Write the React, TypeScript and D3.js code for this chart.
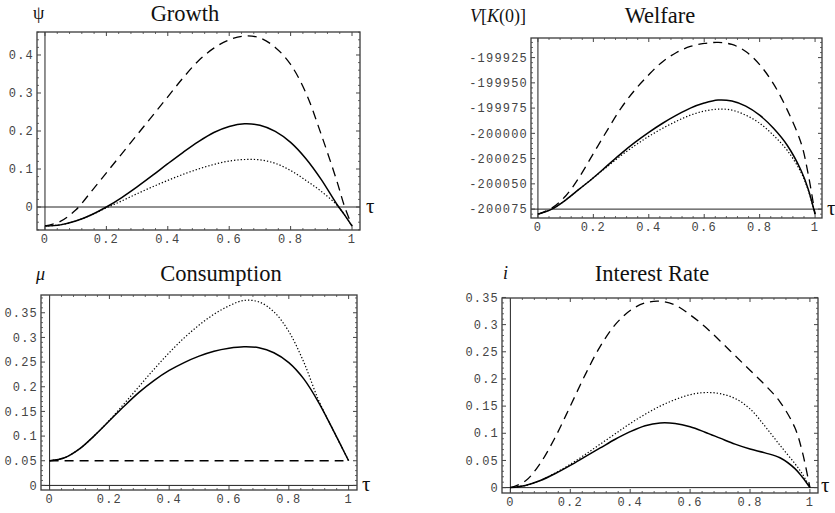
import React from 'react'
import * as d3 from 'd3'

// shared abscissa (tau)
const tau = [0, 0.05, 0.1, 0.15, 0.2, 0.25, 0.3, 0.35, 0.4, 0.45, 0.5, 0.55, 0.6, 0.65, 0.7, 0.75, 0.8, 0.85, 0.9, 0.95, 0.975, 1]
const xTicks = [0, 0.2, 0.4, 0.6, 0.8, 1]

// Growth (psi)
const growthSolid = [-0.05, -0.047, -0.037, -0.021, 0, 0.025, 0.053, 0.083, 0.114, 0.144, 0.172, 0.196, 0.212, 0.219, 0.215, 0.199, 0.17, 0.127, 0.072, 0.008, -0.02, -0.05]
const growthDotted = [-0.05, -0.047, -0.037, -0.021, -0.002, 0.016, 0.035, 0.053, 0.07, 0.086, 0.1, 0.112, 0.121, 0.125, 0.124, 0.115, 0.096, 0.07, 0.041, 0.006, -0.02, -0.05]
const growthDashed = [-0.05, -0.038, -0.008, 0.04, 0.09, 0.14, 0.19, 0.24, 0.29, 0.34, 0.385, 0.418, 0.44, 0.45, 0.445, 0.42, 0.375, 0.3, 0.19, 0.07, 0.003, -0.05]
const growthTicks = [0, 0.1, 0.2, 0.3, 0.4]

// Welfare V[K(0)]
const welfareSolid = [-200080, -200075, -200066, -200055, -200044, -200032, -200020, -200009, -199999, -199990, -199982, -199975, -199970, -199967, -199968, -199973, -199982, -199995, -200012, -200037, -200055, -200080]
const welfareDotted = [-200080, -200075, -200066, -200055, -200044, -200033, -200022, -200012, -200003, -199995, -199988, -199982, -199978, -199976, -199977, -199982, -199990, -200002, -200017, -200039, -200056, -200080]
const welfareDashed = [-200080, -200074, -200062, -200043, -200020, -199997, -199975, -199957, -199942, -199929, -199920, -199914, -199911, -199910, -199912, -199919, -199932, -199951, -199977, -200010, -200040, -200080]
const welfareTicks = [-200075, -200050, -200025, -200000, -199975, -199950, -199925]

// Consumption (mu)
const consSolid = [0.05, 0.056, 0.074, 0.101, 0.131, 0.161, 0.189, 0.213, 0.233, 0.249, 0.262, 0.272, 0.278, 0.281, 0.279, 0.269, 0.249, 0.216, 0.168, 0.11, 0.08, 0.05]
const consDotted = [0.05, 0.056, 0.074, 0.101, 0.132, 0.166, 0.201, 0.236, 0.269, 0.299, 0.325, 0.347, 0.364, 0.375, 0.372, 0.352, 0.312, 0.25, 0.172, 0.11, 0.08, 0.05]
const consDashed = [0.05, 0.05, 0.05, 0.05, 0.05, 0.05, 0.05, 0.05, 0.05, 0.05, 0.05, 0.05, 0.05, 0.05, 0.05, 0.05, 0.05, 0.05, 0.05, 0.05, 0.05, 0.05]
const consTicks = [0, 0.05, 0.1, 0.15, 0.2, 0.25, 0.3, 0.35]

// Interest rate (i)
const rateSolid = [0, 0.004, 0.013, 0.026, 0.041, 0.057, 0.073, 0.089, 0.103, 0.114, 0.119, 0.118, 0.112, 0.102, 0.091, 0.08, 0.071, 0.064, 0.055, 0.035, 0.019, 0]
const rateDotted = [0, 0.004, 0.013, 0.027, 0.043, 0.061, 0.08, 0.099, 0.118, 0.135, 0.15, 0.162, 0.171, 0.175, 0.173, 0.164, 0.145, 0.113, 0.078, 0.044, 0.025, 0]
const rateDashed = [0, 0.012, 0.045, 0.093, 0.15, 0.208, 0.26, 0.3, 0.326, 0.34, 0.343, 0.336, 0.318, 0.296, 0.27, 0.243, 0.216, 0.189, 0.158, 0.11, 0.065, 0]
const rateTicks = [0, 0.05, 0.1, 0.15, 0.2, 0.25, 0.3, 0.35]

const panels = [
  {
    title: 'Growth', titleX: 185, titleY: 21,
    frame: [37, 32, 360, 230], xDomain: [-0.026, 1.026], yDomain: [-0.0605, 0.4605],
    yTicks: growthTicks, yMinor: 0.02, origin: 0,
    series: [growthSolid, growthDotted, growthDashed],
    ylab: 'ψ', ylabX: 33, ylabY: 19, tauX: 366, tauY: 213,
  },
  {
    title: 'Welfare', titleX: 660, titleY: 23,
    frame: [531, 38, 822, 218], xDomain: [-0.025, 1.025], yDomain: [-200083.8, -199905.6],
    yTicks: welfareTicks, yMinor: 5, origin: -200075,
    series: [welfareSolid, welfareDotted, welfareDashed],
    ylab: 'V[K(0)]', ylabX: 470, ylabY: 22, tauX: 827, tauY: 215,
  },
  {
    title: 'Consumption', titleX: 221, titleY: 281,
    frame: [41, 295, 357, 490], xDomain: [-0.0287, 1.028], yDomain: [-0.0093, 0.386],
    yTicks: consTicks, yMinor: 0.01, origin: 0,
    series: [consSolid, consDotted, consDashed],
    ylab: 'μ', ylabX: 36, ylabY: 280, tauX: 362, tauY: 491,
  },
  {
    title: 'Interest Rate', titleX: 652, titleY: 281,
    frame: [502, 298, 818, 493], xDomain: [-0.028, 1.027], yDomain: [-0.0099, 0.349],
    yTicks: rateTicks, yMinor: 0.01, origin: 0,
    series: [rateSolid, rateDotted, rateDashed],
    ylab: 'i', ylabX: 503, ylabY: 279, tauX: 821, tauY: 492,
  },
]

const styles = [
  { dash: null, width: 1.5 },
  { dash: '1.3,2', width: 1.2 },
  { dash: '9,6', width: 1.3 },
]

const fmt = (v: number) => String(+v.toFixed(3))

function minorTicks(domain: number[], step: number, majors: number[]) {
  const out: number[] = []
  const lo = Math.ceil(domain[0] / step - 1e-9)
  const hi = Math.floor(domain[1] / step + 1e-9)
  for (let k = lo; k <= hi; k++) {
    const v = k * step
    if (!majors.some(m => Math.abs(m - v) < step / 10)) out.push(v)
  }
  return out
}

const Panel = ({ p }: { p: any }) => {
  const [fx0, fy0, fx1, fy1] = p.frame
  const x = d3.scaleLinear().domain(p.xDomain).range([fx0, fx1])
  const y = d3.scaleLinear().domain(p.yDomain).range([fy1, fy0])
  const line = d3.line<number>()
    .x((_, i) => x(tau[i]))
    .y(d => y(d))
    .curve(d3.curveCatmullRom.alpha(0.5))

  const xMinor = minorTicks(p.xDomain, 0.04, xTicks)
  const yMinor = minorTicks(p.yDomain, p.yMinor, p.yTicks)
  const tickColor = '#444'

  return (
    <g>
      <text x={p.titleX} y={p.titleY} textAnchor="middle" fontFamily="Liberation Serif" fontSize={22.5} fill="#111">{p.title}</text>
      {p.ylab === 'V[K(0)]' ? (
        <text x={p.ylabX} y={p.ylabY} fontFamily="Liberation Serif" fontSize={18} fill="#111">
          <tspan fontStyle="italic">V</tspan>[<tspan fontStyle="italic">K</tspan>(0)]
        </text>
      ) : (
        <text x={p.ylabX} y={p.ylabY} fontFamily="Liberation Serif" fontSize={18}
          fontStyle={p.ylab === 'ψ' ? 'normal' : 'italic'} fill="#111">{p.ylab}</text>
      )}
      <text x={p.tauX} y={p.tauY} fontFamily="Liberation Serif" fontSize={21} fill="#111">τ</text>

      {/* axes through origin */}
      <line x1={fx0} x2={fx1} y1={y(p.origin)} y2={y(p.origin)} stroke="#222" strokeWidth={1} />
      <line x1={x(0)} x2={x(0)} y1={fy0} y2={fy1} stroke="#222" strokeWidth={1} />

      {p.series.map((s: number[], i: number) => (
        <path key={i} d={line(s) || ''} fill="none" stroke="#000"
          strokeWidth={styles[i].width} strokeDasharray={styles[i].dash || undefined} />
      ))}

      {/* frame */}
      <rect x={fx0} y={fy0} width={fx1 - fx0} height={fy1 - fy0} fill="none" stroke="#3a3a3a" strokeWidth={1.3} />
      {xTicks.map(t => (
        <g key={'xt' + t}>
          <line x1={x(t)} x2={x(t)} y1={fy1} y2={fy1 - 4} stroke={tickColor} />
          <line x1={x(t)} x2={x(t)} y1={fy0} y2={fy0 + 4} stroke={tickColor} />
          <text x={x(t)} y={fy1 + 13} textAnchor="middle" fontFamily="Liberation Mono" fontSize={12}
            letterSpacing={1.2} fill="#444">{fmt(t)}</text>
        </g>
      ))}
      {xMinor.map(t => (
        <g key={'xm' + t}>
          <line x1={x(t)} x2={x(t)} y1={fy1} y2={fy1 - 2} stroke={tickColor} strokeWidth={0.8} />
          <line x1={x(t)} x2={x(t)} y1={fy0} y2={fy0 + 2} stroke={tickColor} strokeWidth={0.8} />
        </g>
      ))}
      {p.yTicks.map((t: number) => (
        <g key={'yt' + t}>
          <line x1={fx0} x2={fx0 + 4} y1={y(t)} y2={y(t)} stroke={tickColor} />
          <line x1={fx1} x2={fx1 - 4} y1={y(t)} y2={y(t)} stroke={tickColor} />
          <text x={fx0 - 3} y={y(t)} dy="0.35em" textAnchor="end" fontFamily="Liberation Mono" fontSize={12}
            letterSpacing={1.2} fill="#444">{fmt(t)}</text>
        </g>
      ))}
      {yMinor.map(t => (
        <g key={'ym' + t}>
          <line x1={fx0} x2={fx0 + 2} y1={y(t)} y2={y(t)} stroke={tickColor} strokeWidth={0.8} />
          <line x1={fx1} x2={fx1 - 2} y1={y(t)} y2={y(t)} stroke={tickColor} strokeWidth={0.8} />
        </g>
      ))}
    </g>
  )
}

export default function App() {
  return (
    <svg width={835} height={513} style={{ position: 'absolute', left: 0, top: 0, background: '#fff' }}>
      {panels.map(p => <Panel key={p.title} p={p} />)}
    </svg>
  )
}
